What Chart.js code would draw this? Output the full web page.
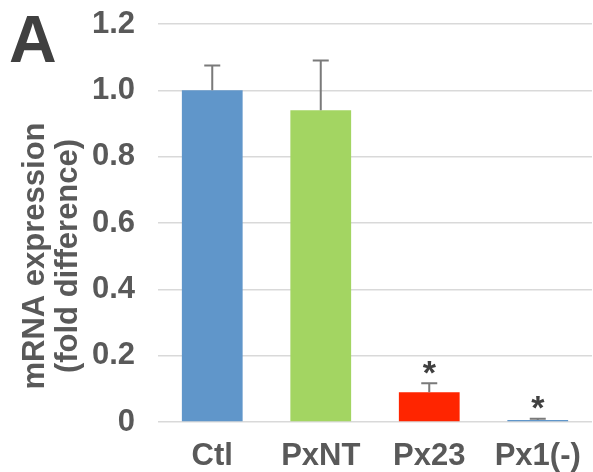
<!DOCTYPE html>
<html>
<head>
<meta charset="utf-8">
<script src="https://cdn.jsdelivr.net/npm/chart.js@4.4.1/dist/chart.umd.min.js"></script>
<style>
  html, body { margin:0; padding:0; background:#fff; }
  #wrap { width:593px; height:472px; }
</style>
</head>
<body>
<div id="wrap"><canvas id="myChart" width="593" height="472"></canvas></div>
<script>
// data
var labels = ['Ctl', 'PxNT', 'Px23', 'Px1(-)'];
var values = [1.0, 0.94, 0.09, 0.006];
var errUp  = [0.075, 0.15, 0.027, 0.004];
var stars  = ['', '', '*', '*'];
var barColors = ['#6096CA', '#A3D562', '#FF2500', '#6096CA'];
var yTicks = [0, 0.2, 0.4, 0.6, 0.8, 1.0, 1.2];

var fam = '"Liberation Sans", Arial, sans-serif';
var grey = '#595959';

// error bars + significance stars
var errPlugin = {
  id: 'errbars',
  afterDatasetsDraw: function(chart) {
    var ctx = chart.ctx;
    var ys = chart.scales.y;
    var meta = chart.getDatasetMeta(0);
    ctx.save();
    ctx.strokeStyle = '#7a7a7a';
    ctx.lineWidth = 2;
    for (var i = 0; i < values.length; i++) {
      var x = meta.data[i].x;
      var y0 = ys.getPixelForValue(values[i]);
      var y1 = ys.getPixelForValue(values[i] + errUp[i]);
      ctx.beginPath();
      ctx.moveTo(x, y0); ctx.lineTo(x, y1);
      ctx.moveTo(x - 8, y1); ctx.lineTo(x + 8, y1);
      ctx.stroke();
      if (stars[i]) {
        ctx.fillStyle = '#404040';
        ctx.font = 'bold 34px ' + fam;
        ctx.textAlign = 'center';
        ctx.textBaseline = 'middle';
        ctx.fillText(stars[i], x, y1 - 9);
      }
    }
    ctx.restore();
  },
  afterDraw: function(chart) {
    var ctx = chart.ctx;
    ctx.save();
    // panel letter
    ctx.fillStyle = '#404040';
    ctx.font = 'bold 66px ' + fam;
    ctx.textAlign = 'left';
    ctx.textBaseline = 'alphabetic';
    ctx.fillText('A', 9, 62);
    // y axis title
    ctx.fillStyle = grey;
    ctx.font = 'bold 31px ' + fam;
    ctx.textAlign = 'center';
    ctx.textBaseline = 'middle';
    ctx.translate(0, 256);
    ctx.rotate(-Math.PI / 2);
    ctx.fillText('mRNA expression', 0, 35);
    ctx.fillText('(fold difference)', 0, 68);
    ctx.restore();
  }
};

var ctx = document.getElementById('myChart').getContext('2d');
var chart = new Chart(ctx, {
  type: 'bar',
  data: {
    labels: labels,
    datasets: [{
      data: values,
      backgroundColor: barColors,
      borderWidth: 0,
      barPercentage: 0.56,
      categoryPercentage: 1.0
    }]
  },
  options: {
    responsive: false,
    animation: false,
    layout: { padding: { left: 0, right: 1, top: 24, bottom: 0 } },
    plugins: { legend: { display: false }, tooltip: { enabled: false } },
    scales: {
      x: {
        grid: { display: false },
        border: { display: false },
        ticks: { color: grey, font: { family: fam, size: 31, weight: 'bold' }, padding: 8 },
        afterFit: function(s) { s.height = 50; s.paddingLeft = 0; s.paddingRight = 0; }
      },
      y: {
        min: 0, max: 1.2,
        afterBuildTicks: function(s) { s.ticks = yTicks.map(function(v){ return {value: v}; }); },
        grid: { color: '#d9d9d9', lineWidth: 1.5, drawTicks: false },
        border: { display: false },
        ticks: {
          color: grey, padding: 23,
          font: { family: fam, size: 31, weight: 'bold' },
          callback: function(v) { return v === 0 ? '0' : v.toFixed(1); }
        },
        afterFit: function(s) { s.width = 158; s.paddingTop = 0; s.paddingBottom = 0; }
      }
    }
  },
  plugins: [errPlugin]
});
</script>
</body>
</html>
